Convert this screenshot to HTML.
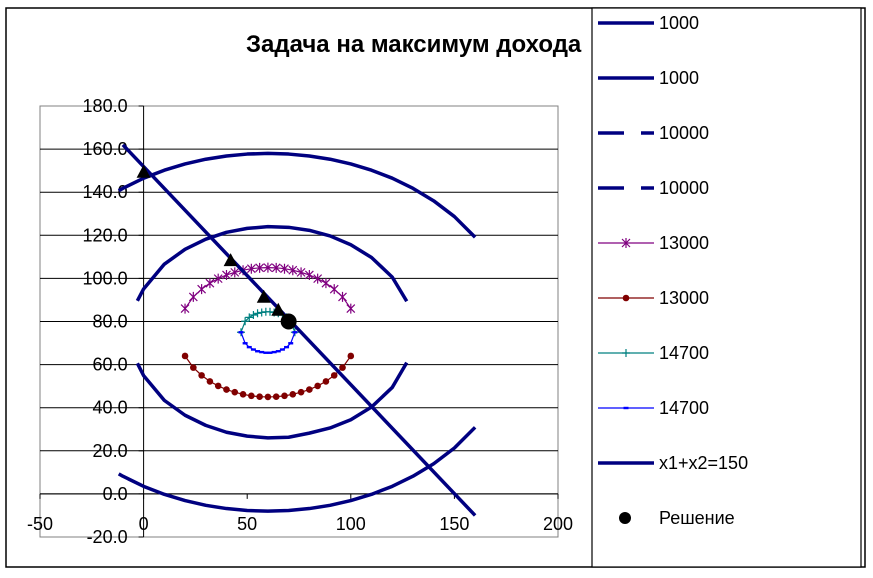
<!DOCTYPE html>
<html><head><meta charset="utf-8"><style>
body{margin:0;background:#fff;}
svg text{font-family:"Liberation Sans",sans-serif;}
</style></head><body>
<svg id="chart" width="873" height="573" xmlns="http://www.w3.org/2000/svg">
<rect x="6" y="8" width="859" height="559" fill="#fff" stroke="#000" stroke-width="1.5"/>
<text x="246" y="52" font-size="24" font-weight="bold">Задача на максимум дохода</text>
<g id="plot"></g>
<g id="legend"></g>
</svg>
<script>
const xTicks=[-50,0,50,100,150,200];
const yTicks=[-20,0,20,40,60,80,100,120,140,160,180];
const x1000=[-12,-10,0,10,20,30,40,50,60,70,80,90,100,110,120,130,140,150,160];
const up1000=[140.7,141.8,146.5,150.2,153.1,155.3,156.8,157.7,158,157.7,156.8,155.3,153.1,150.2,146.5,141.8,136,128.7,119.1];
const lo1000=[9.3,8.2,3.5,-0.2,-3.1,-5.3,-6.8,-7.7,-8,-7.7,-6.8,-5.3,-3.1,-0.2,3.5,8.2,14,21.3,30.9];
const x10000=[-3,0,10,20,30,40,50,60,70,80,90,100,110,120,127];
const up10000=[89.6,95.1,106.6,113.5,118.2,121.4,123.2,124,123.7,122.3,119.7,115.6,109.7,100.6,89.4];
const lo10000=[60.6,54.9,43.4,36.5,31.8,28.6,26.8,26,26.3,28.2,30.6,34.4,40.3,49.4,60.9];
const x13000=[20,24,28,32,36,40,44,48,52,56,60,64,68,72,76,80,84,88,92,96,100];
const up13000=[86,91.4,95,97.8,99.9,101.6,102.8,103.8,104.5,104.9,105,104.9,104.5,103.8,102.8,101.6,99.9,97.8,95,91.4,86];
const lo13000=[64,58.6,55,52.2,50.1,48.4,47.2,46.2,45.5,45.1,45,45.1,45.5,46.2,47.2,48.4,50.1,52.2,55,58.6,64];
const x14700=[47,49,51,53,55,57,59,61,63,65,67,69,71,73];
const up14700=[75,80.1,81.9,83,83.8,84.2,84.5,84.5,84.2,83.8,83,81.9,80.1,75];
const lo14700=[75,69.9,68.1,67,66.2,65.8,65.5,65.5,65.8,66.2,67,68.1,69.9,75];
const xLine=[-10,160];
const yLine=[162,-10];
const xTri=[0,42,58,65];
const yTri=[149,108,91,85];
const xSol=[70];
const ySol=[80];
const legendLabels=["1000","1000","10000","10000","13000","13000","14700","14700","x1+x2=150","Решение"];

const NS="http://www.w3.org/2000/svg";
const L=40,R=558,T=106,B=537;
function sx(v){return L+(v+50)/250*(R-L);}
function sy(v){return B-(v+20)/200*(B-T);}
function mk(tag,attrs,parent){const e=document.createElementNS(NS,tag);for(const k in attrs)e.setAttribute(k,attrs[k]);parent.appendChild(e);return e;}
const plot=document.getElementById('plot');
let r=mk('rect',{x:L,y:T,width:R-L,height:B-T,fill:'#fff',stroke:'#808080'},plot);


yTicks.forEach(t=>{
 if(t>-20&&t<180){let g=mk('line',{x1:L,x2:R,y1:sy(t),y2:sy(t),stroke:'#000'},plot);
 
 }
 let tk=mk('line',{x1:sx(0)-5,x2:sx(0),y1:sy(t),y2:sy(t),stroke:'#000'},plot);
 
 
 let tx=mk('text',{x:sx(0)-16,y:sy(t)+6,'font-size':18,'text-anchor':'end'},plot);
 tx.textContent=t.toFixed(1);
 
 
});
let ya=mk('line',{x1:sx(0),x2:sx(0),y1:T,y2:B,stroke:'#000'},plot);


let xa=mk('line',{x1:L,x2:R,y1:sy(0),y2:sy(0),stroke:'#000'},plot);


xTicks.forEach(t=>{
 let tk=mk('line',{x1:sx(t),x2:sx(t),y1:sy(0),y2:sy(0)+5,stroke:'#000'},plot);
 
 
 let tx=mk('text',{x:sx(t),y:530,'font-size':18,'text-anchor':'middle'},plot);
 tx.textContent=String(t);
 
 
});
function series(xs,ys,color,w,name,marker){
 const p=mk('polyline',{points:xs.map((x,i)=>sx(x)+','+sy(ys[i])).join(' '),fill:'none',stroke:color,'stroke-width':w,'stroke-linejoin':'round'},plot);
 
 
 if(marker) xs.forEach((x,i)=>marker(sx(x),sy(ys[i]),plot,name));
}
function star(x,y,par){const s=4;mk('path',{d:`M${x-s} ${y-s}L${x+s} ${y+s}M${x-s} ${y+s}L${x+s} ${y-s}M${x} ${y-s-1}L${x} ${y+s+1}`,stroke:'#800080','stroke-width':1.2},par);}
function dot(x,y,par){mk('circle',{cx:x,cy:y,r:3.3,fill:'#800000'},par);}
function plus(x,y,par){mk('path',{d:`M${x-4} ${y}L${x+4} ${y}M${x} ${y-4}L${x} ${y+4}`,stroke:'#008080','stroke-width':1.2},par);}
function dash(x,y,par){mk('rect',{x:x-2.5,y:y-1.2,width:5,height:2.4,fill:'#0000ff'},par);}
series(x1000,up1000,'#000080',3.5,'series-1000-upper');
series(x1000,lo1000,'#000080',3.5,'series-1000-lower');
series(x10000,up10000,'#000080',3.5,'series-10000-upper');
series(x10000,lo10000,'#000080',3.5,'series-10000-lower');
series(x13000,up13000,'#800080',1.2,'series-13000-upper',star);
series(x13000,lo13000,'#800000',1.2,'series-13000-lower',dot);
series(x14700,up14700,'#008080',1.2,'series-14700-upper',plus);
series(x14700,lo14700,'#0000ff',1.2,'series-14700-lower',dash);
series(xLine,yLine,'#000080',3.5,'constraint-line');
xTri.forEach((x,i)=>{const px=sx(x),py=sy(yTri[i]);
 const t=mk('path',{d:`M${px} ${py-8}L${px+7} ${py+5}L${px-7} ${py+5}Z`,fill:'#000'},plot);
 
 });
xSol.forEach((x,i)=>{const c=mk('circle',{cx:sx(x),cy:sy(ySol[i]),r:8,fill:'#000'},plot);
 
 });

const lg=document.getElementById('legend');
let lb=mk('rect',{x:592,y:8,width:269,height:559,fill:'#fff',stroke:'#000','stroke-width':1.2},lg);


legendLabels.forEach((lab,i)=>{
 const y=23+i*55;
 const g=mk('g',{},lg);
 
 
 if(i<2||i==8) mk('line',{x1:598,x2:654,y1:y,y2:y,stroke:'#000080','stroke-width':3.5},g);
 else if(i<4){mk('line',{x1:598,x2:624,y1:y,y2:y,stroke:'#000080','stroke-width':3.5},g);mk('line',{x1:641,x2:654,y1:y,y2:y,stroke:'#000080','stroke-width':3.5},g);}
 else if(i<8){const cols=['#800080','#800000','#008080','#0000ff'];mk('line',{x1:598,x2:654,y1:y,y2:y,stroke:cols[i-4],'stroke-width':1.2},g);[star,dot,plus,dash][i-4](626,y,g);}
 else mk('circle',{cx:625,cy:y,r:6,fill:'#000'},g);
 const t=mk('text',{x:659,y:y+6,'font-size':18},g);
 t.textContent=lab;
});
</script>
</body></html>
